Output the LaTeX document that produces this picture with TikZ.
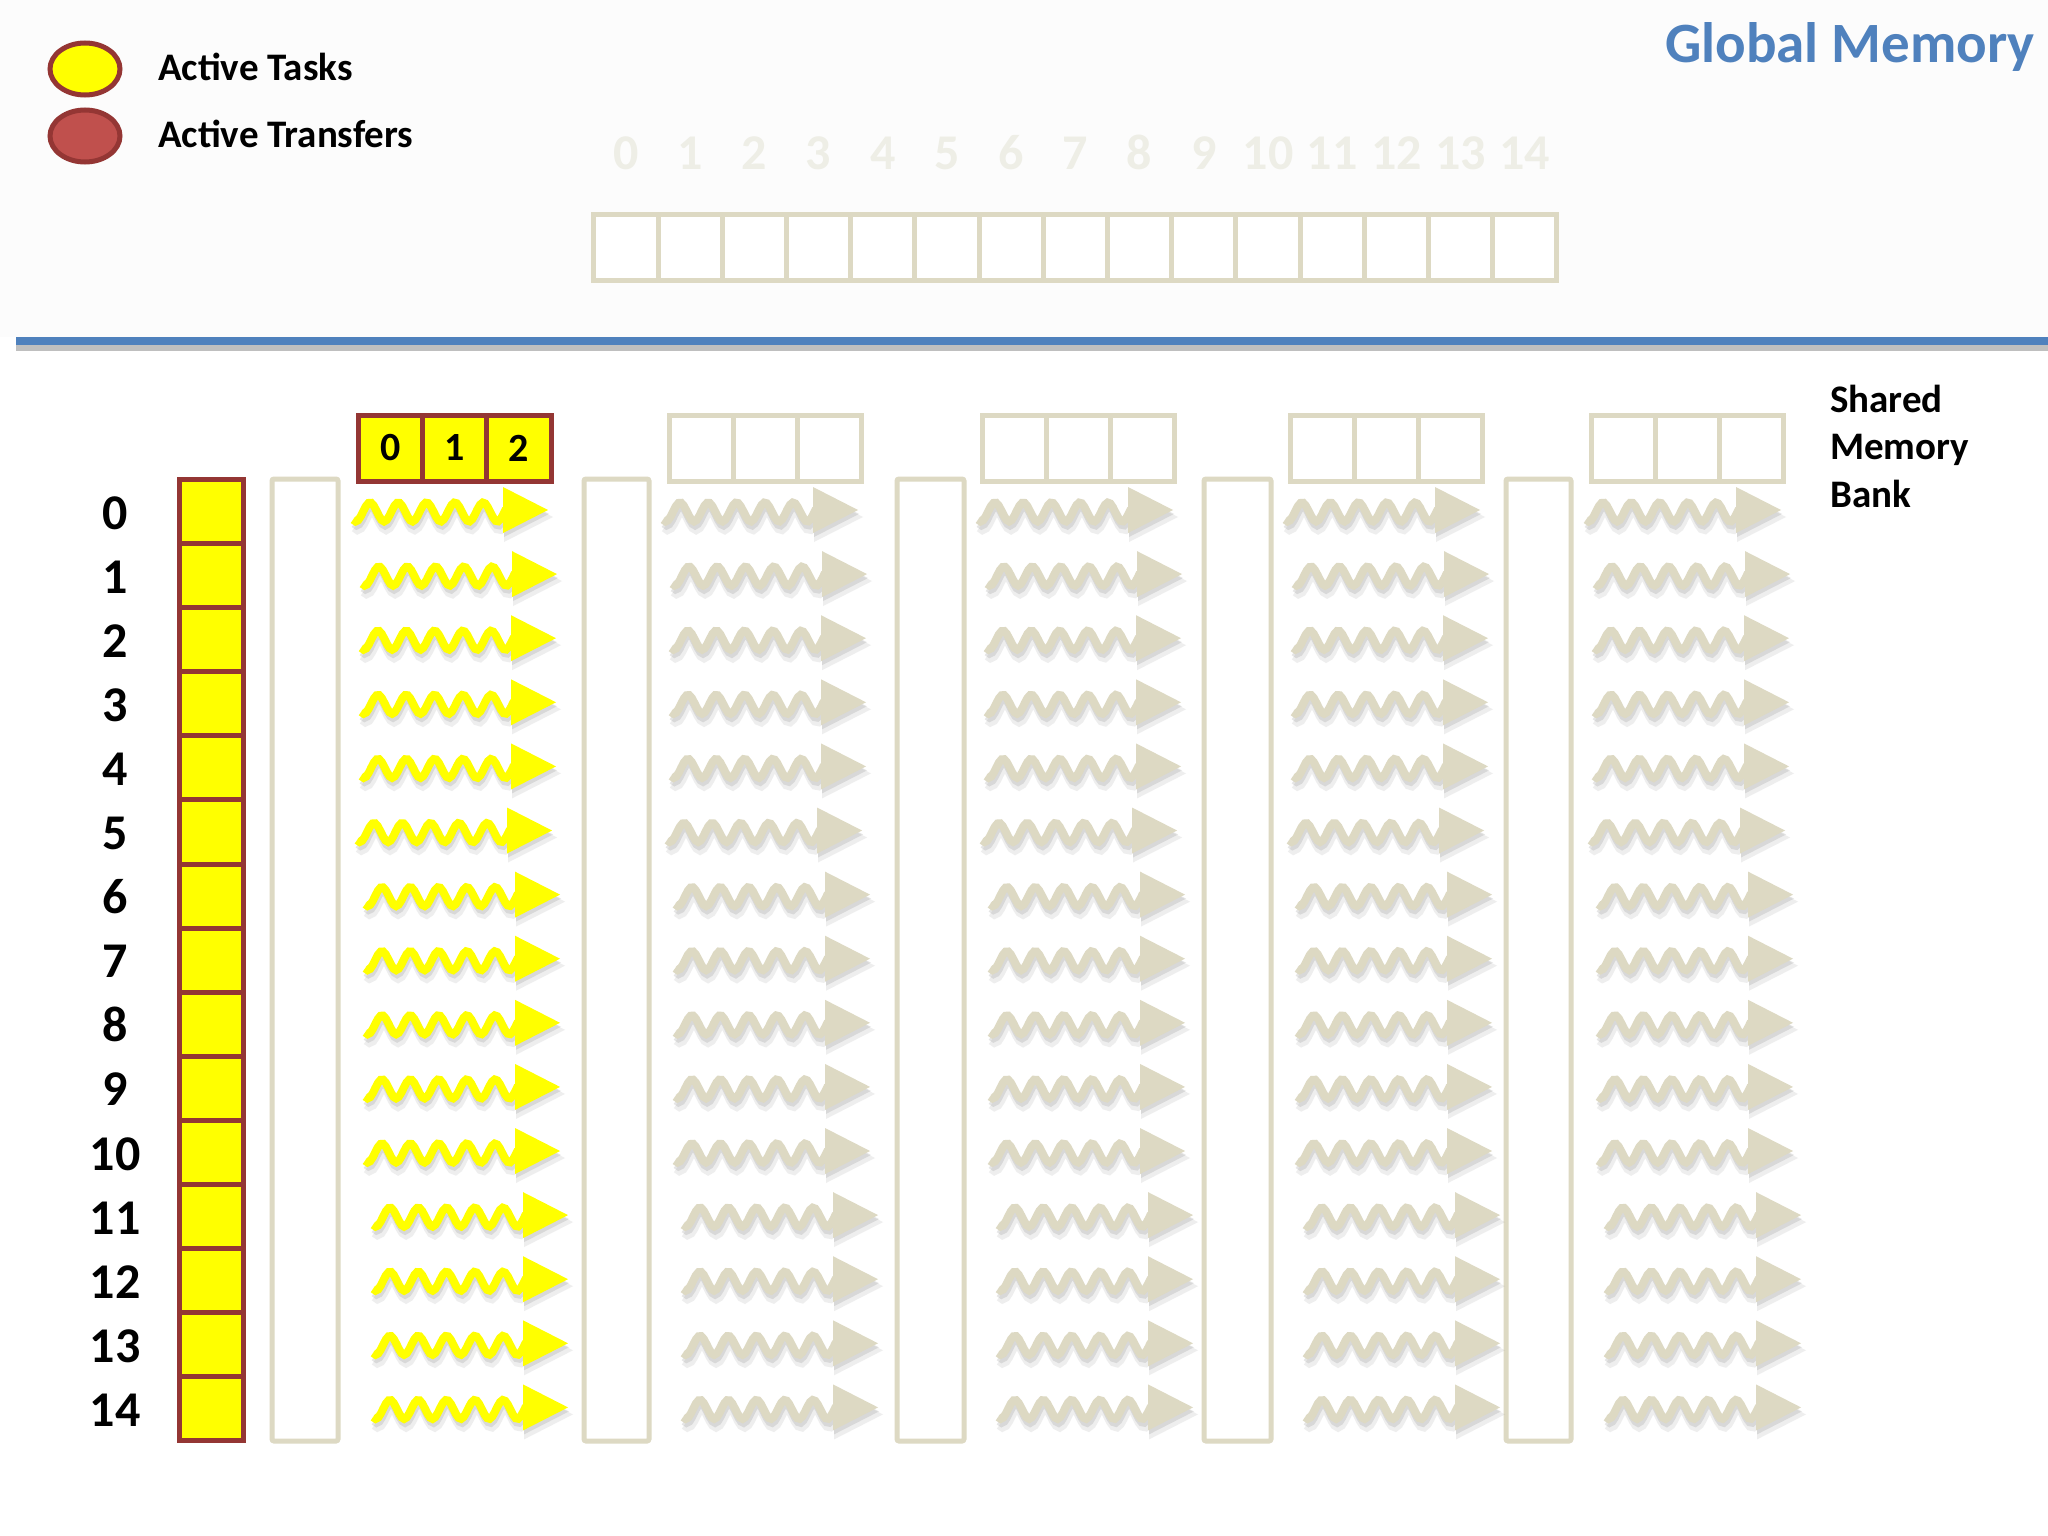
\documentclass[tikz,border=0pt]{standalone}
\usepackage{fontspec}
\setmainfont{Carlito}
\usetikzlibrary{shapes.geometric}
\definecolor{tyellow}{HTML}{FFFF00}
\definecolor{tred}{HTML}{943634}
\definecolor{tredfill}{HTML}{C0504D}
\definecolor{tgrey}{HTML}{DDD9C3}
\definecolor{tblue}{HTML}{4F81BD}
\definecolor{tfaint}{HTML}{EEEEE6}
\definecolor{tshadow}{HTML}{8C8C8C}
\tikzset{
  pics/warrow/.style={code={
    \begin{scope}[shift={(2,7)}, opacity=.14]
      \draw[tshadow, line width=11pt] plot[domain=0:153,samples=60] (\x,{2-9.5*sin((\x-9.9)*12.72)});
      \fill[tshadow] (149,-25) -- (198,0) -- (149,25) -- cycle;
    \end{scope}
    \begin{scope}[shift={(1,4)}, opacity=.22]
      \draw[tshadow, line width=8pt] plot[domain=0:153,samples=60] (\x,{2-9.5*sin((\x-9.9)*12.72)});
      \fill[tshadow] (150,-23) -- (195,0) -- (150,23) -- cycle;
    \end{scope}
    \draw[#1, line width=8pt] plot[domain=0:153,samples=60] (\x,{2-9.5*sin((\x-9.9)*12.72)});
    \fill[#1] (150,-23) -- (195,0) -- (150,23) -- cycle;
  }},
  ycell/.style={draw=tred, fill=tyellow, line width=5pt, minimum width=64pt, minimum height=64.1pt, inner sep=0pt},
  gcell/.style={draw=tgrey, fill=white, line width=5pt, minimum width=64.2pt, minimum height=66pt, inner sep=0pt},
  gcol/.style={draw=tgrey, line width=5pt, rounded corners=2pt},
  bigbold/.style={font=\bfseries\fontsize{39}{47}\selectfont, inner sep=0pt},
  rowlbl/.style={font=\bfseries\fontsize{50}{60}\selectfont, inner sep=0pt, anchor=base},
  toplbl/.style={font=\bfseries\fontsize{50}{60}\selectfont, inner sep=0pt, anchor=base, text=tfaint},
  celllbl/.style={font=\bfseries\fontsize{40}{48}\selectfont},
}
\begin{document}
\begin{tikzpicture}[x=1pt,y=-1pt]
\useasboundingbox (0,0) rectangle (2048,1536);
\fill[white] (0,0) rectangle (2048,1536);
\fill[black!1] (0,0) rectangle (2048,337);

% legend
\node[ellipse, draw=tred, fill=tyellow, line width=5pt, minimum width=70pt, minimum height=52pt] (legT) at (85,69) {};
\node[ellipse, draw=tred, fill=tredfill, line width=5pt, minimum width=70pt, minimum height=52pt] (legR) at (85,136) {};
\node[bigbold, anchor=base west] (legTt) at (158,81) {Active Tasks};
\node[bigbold, anchor=base west] (legRt) at (158,148) {Active Transfers};

% title
\node[font=\bfseries\fontsize{57}{68}\selectfont, text=tblue, inner sep=0pt, anchor=base east] (title) at (2035,63) {Global Memory};

% global memory cells
\foreach \i in {0,...,14} {
  \node[toplbl] (gl\i) at ({626+64.2*\i},169) {\i};
  \node[gcell] (g\i) at ({626+64.2*\i},247) {};
}

% separator line
\fill[black!25] (16,345) rectangle (2048,351);
\fill[tblue] (16,337) rectangle (2048,345);

% shared memory bank label
\node[bigbold, anchor=base west] (sm1) at (1830,412) {Shared};
\node[bigbold, anchor=base west] (sm2) at (1830,459) {Memory};
\node[bigbold, anchor=base west] (sm3) at (1830,507) {Bank};

% empty grey columns
\foreach \xa/\xb in {272/338, 584/649, 897/964, 1204/1271, 1506/1571} {
  \draw[gcol] (\xa,479) rectangle (\xb,1441);
}

% yellow shared memory cells (top of col 1)
\foreach \k in {0,1,2} {
  \node[ycell, minimum width=64.3pt, minimum height=66pt, celllbl] (ys\k) at ({390.5+64.3*\k},448) {\k};
}
% grey shared memory cells
\foreach \c/\xs in {1/669, 2/982, 3/1290, 4/1591} {
  \foreach \k in {0,1,2} {
    \node[gcell, minimum width=64.3pt] (gs\c\k) at ({\xs+32.2+64.3*\k},448) {};
  }
}

% row labels and yellow column
\foreach \i in {0,...,14} {
  \node[ycell] (yc\i) at (211.5,{511.5+64.1*\i}) {};
  \node[rowlbl] (rl\i) at (115,{529+64.1*\i}) {\i};
}

% wavy arrows
\foreach \i/\d in {0/0,1/9,2/8,3/8,4/8,5/4,6/12,7/12,8/12,9/12,10/12,11/20,12/20,13/20,14/20} {
  \pic at ({353+\d},{510+64.1*\i}) {warrow=tyellow};
  \foreach \xs in {663, 978, 1285, 1586} {
    \pic at ({\xs+\d},{510+64.1*\i}) {warrow=tgrey};
  }
}
\end{tikzpicture}
\end{document}
